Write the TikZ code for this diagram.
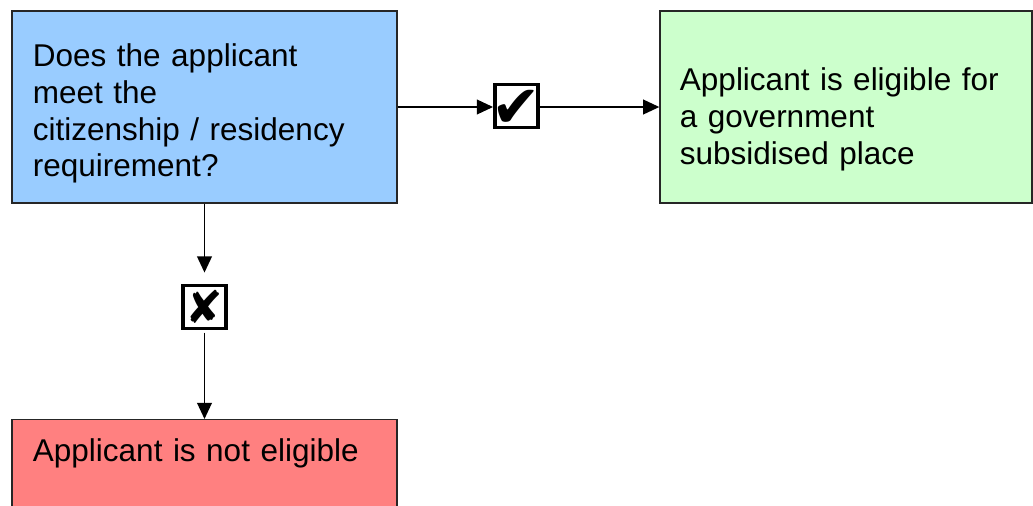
\documentclass[tikz,border=0pt]{standalone}
\usepackage{fontspec}
\setmainfont{Liberation Sans}
\newfontfamily\symfont{DejaVu Sans}
\usetikzlibrary{arrows.meta}
\definecolor{askblue}{HTML}{99CCFF}
\definecolor{yesgreen}{HTML}{CCFFCC}
\definecolor{nored}{HTML}{FF8080}
\newcommand\markglyph[2]{{\symfont\fontsize{#1}{#1}\selectfont\makebox[0pt]{\raisebox{-0.36em}[0pt][0pt]{#2}}}}
\begin{document}
\begin{tikzpicture}[x=0.025cm, y=-0.025cm,
		box/.style={draw=black!85, line width=0.9pt, align=left, inner ysep=0pt,
			font=\fontsize{22.4}{26}\selectfont, text height=0.55cm},
		markbox/.style={draw=black, line width=2.8pt, minimum size=1.075cm, inner sep=0pt},
		conn/.style={line width=1.1pt, -{Triangle[length=11.5pt, width=10.5pt]}}]
		\useasboundingbox (0, 0) rectangle (1033, 506);

		% question and the two outcomes
		\node[box, fill=askblue, minimum width=9.625cm, minimum height=4.8cm, inner xsep=0.525cm,
			text width=8.575cm, text depth=2.55cm] (ask) at (204.5, 107)
			{Does the applicant\\meet the\\citizenship / residency\\requirement?};
		\node[box, fill=yesgreen, minimum width=9.3cm, minimum height=4.8cm, inner xsep=0.5cm,
			text width=8.3cm, text depth=1.35cm] (yes) at (846, 107)
			{Applicant is eligible for\\a government\\subsidised place};
		\node[box, fill=nored, anchor=north, inner xsep=0.525cm, inner ysep=0.5cm,
			text width=8.575cm, text depth=2.5cm] (no) at (204.5, 419)
			{Applicant is not eligible};

		% yes / no marks
		\node[markbox] (chk) at (516.5, 106) {\markglyph{42}{✔}};
		\node[markbox] (crs) at (204.5, 307) {\markglyph{32}{✘}};

		\draw[conn] (ask.east) -- (ask.east -| chk.west);
		\draw[conn] (ask.east -| chk.east) -- (yes.west);
		\draw[conn, shorten >=7.8pt] (ask.south) -- (crs.north);
		\draw[conn, shorten <=1.5pt] (crs.south) -- (no.north);
	\end{tikzpicture}
\end{document}
